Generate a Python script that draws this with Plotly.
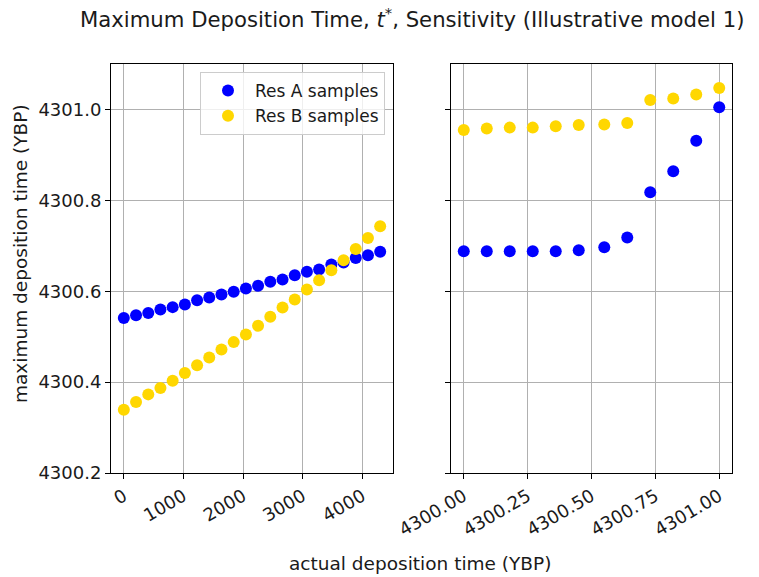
import plotly.graph_objects as go
from plotly.subplots import make_subplots

# ---- data ----
actual_left = [0, 205, 410, 614, 819, 1024, 1229, 1433, 1638, 1843, 2048,
               2252, 2457, 2662, 2867, 3071, 3276, 3481, 3686, 3890, 4095, 4300]
resA_left = [4300.541, 4300.547, 4300.552, 4300.560, 4300.565, 4300.571,
             4300.580, 4300.586, 4300.593, 4300.599, 4300.606, 4300.612,
             4300.621, 4300.626, 4300.635, 4300.643, 4300.648, 4300.659,
             4300.663, 4300.673, 4300.679, 4300.687]
resB_left = [4300.339, 4300.356, 4300.373, 4300.387, 4300.403, 4300.420,
             4300.437, 4300.454, 4300.472, 4300.488, 4300.505, 4300.524,
             4300.544, 4300.564, 4300.582, 4300.604, 4300.624, 4300.646,
             4300.668, 4300.693, 4300.717, 4300.743]

actual_right = [4300.00, 4300.09, 4300.18, 4300.27, 4300.36, 4300.45,
                4300.55, 4300.64, 4300.73, 4300.82, 4300.91, 4301.00]
resA_right = [4300.688, 4300.688, 4300.688, 4300.688, 4300.688, 4300.690,
              4300.697, 4300.718, 4300.818, 4300.864, 4300.931, 4301.005]
resB_right = [4300.955, 4300.958, 4300.960, 4300.960, 4300.963, 4300.966,
              4300.967, 4300.970, 4301.021, 4301.024, 4301.033, 4301.047]

left_ticks = [0, 1000, 2000, 3000, 4000]
right_ticks = [4300.00, 4300.25, 4300.50, 4300.75, 4301.00]
y_ticks = [4300.2, 4300.4, 4300.6, 4300.8, 4301.0]

series_names = ["Res A samples", "Res B samples"]
colors = ["#0000ff", "#ffd700"]

W, H = 759, 577
FONT = "DejaVu Sans"
TICK_SIZE = 18
LABEL_SIZE = 18.5
TITLE_SIZE = 21.2
LEGEND_SIZE = 17

fig = make_subplots(rows=1, cols=2, shared_yaxes=True)

for i, (name, yl, yr) in enumerate(zip(series_names, [resA_left, resB_left], [resA_right, resB_right])):
    fig.add_trace(go.Scatter(x=actual_left, y=yl, mode="markers", name=name,
                             legendgroup=name,
                             marker=dict(color=colors[i], size=12, line=dict(width=0))),
                  row=1, col=1)
    fig.add_trace(go.Scatter(x=actual_right, y=yr, mode="markers", name=name,
                             legendgroup=name, showlegend=False,
                             marker=dict(color=colors[i], size=12, line=dict(width=0))),
                  row=1, col=2)

axis_common = dict(showline=True, linecolor="black", linewidth=1, mirror=True,
                   ticks="outside", ticklen=5, tickwidth=1, tickcolor="black",
                   showgrid=True, gridcolor="#b0b0b0", gridwidth=1,
                   zeroline=False, automargin=False,
                   tickfont=dict(family=FONT, size=TICK_SIZE, color="#1a1a1a"))

fig.update_xaxes(domain=[111 / W, 393 / W], range=[-215, 4515],
                 tickvals=left_ticks, ticktext=[str(t) for t in left_ticks],
                 tickangle=-30, row=1, col=1, **axis_common)
fig.update_xaxes(domain=[451 / W, 732 / W], range=[4299.95, 4301.05],
                 tickvals=right_ticks, ticktext=[f"{t:.2f}" for t in right_ticks],
                 tickangle=-30, row=1, col=2, **axis_common)
fig.update_yaxes(domain=[1 - 473 / H, 1 - 64 / H], range=[4300.2, 4301.1],
                 tickvals=y_ticks, ticktext=[f"{t:.1f}" for t in y_ticks],
                 row=1, col=1, **axis_common)
fig.update_yaxes(domain=[1 - 473 / H, 1 - 64 / H], range=[4300.2, 4301.1],
                 tickvals=y_ticks, showticklabels=False,
                 row=1, col=2, **axis_common)

fig.add_annotation(text="Maximum Deposition Time, <i>t</i><sup>*</sup>, Sensitivity (Illustrative model 1)",
                   xref="paper", yref="paper", x=412 / W, y=1 - 18 / H,
                   xanchor="center", yanchor="middle", showarrow=False,
                   font=dict(family=FONT, size=TITLE_SIZE, color="#1a1a1a"))
fig.add_annotation(text="actual deposition time (YBP)",
                   xref="paper", yref="paper", x=420 / W, y=1 - 563 / H,
                   xanchor="center", yanchor="middle", showarrow=False,
                   font=dict(family=FONT, size=LABEL_SIZE, color="#1a1a1a"))
fig.add_annotation(text="maximum deposition time (YBP)",
                   xref="paper", yref="paper", x=20 / W, y=1 - 254 / H,
                   xanchor="center", yanchor="middle", showarrow=False, textangle=-90,
                   font=dict(family=FONT, size=LABEL_SIZE, color="#1a1a1a"))

fig.update_layout(
    width=W, height=H,
    margin=dict(l=0, r=0, t=0, b=0),
    paper_bgcolor="white", plot_bgcolor="white",
    showlegend=True,
    legend=dict(x=385 / W, y=1 - 72 / H, xanchor="right", yanchor="top",
                bgcolor="rgba(255,255,255,0.8)", bordercolor="#cccccc", borderwidth=1,
                font=dict(family=FONT, size=LEGEND_SIZE, color="#1a1a1a"),
                tracegroupgap=0, itemwidth=44),
)

fig.write_html("out.html")
